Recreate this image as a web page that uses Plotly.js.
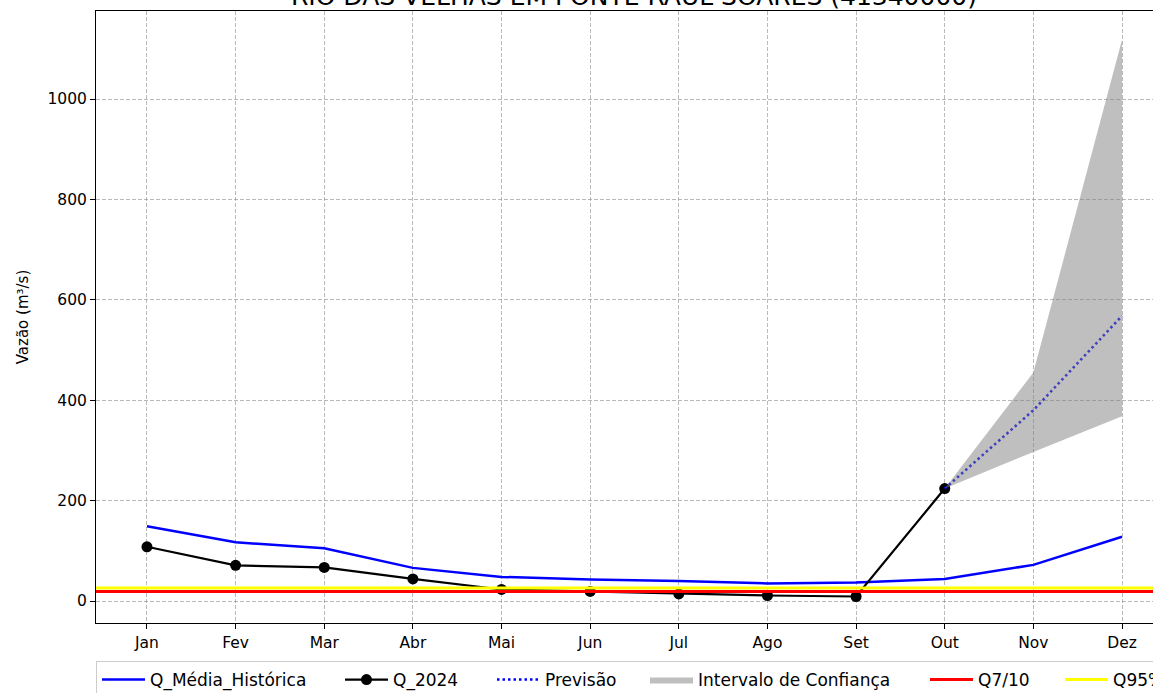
<!DOCTYPE html>
<html>
<head>
<meta charset="utf-8">
<script src="https://cdn.plot.ly/plotly-3.0.1.min.js"></script>
<style>
html,body{margin:0;padding:0;overflow:hidden;background:#fff;width:1153px;height:693px}
#chart{width:1400px;height:693px}
</style>
</head>
<body>
<div id="chart"></div>
<script>
// ---- data ----
const meses = ['Jan','Fev','Mar','Abr','Mai','Jun','Jul','Ago','Set','Out','Nov','Dez'];
const qMediaHistorica = [149, 117, 105, 66, 48, 43, 40, 35, 37, 44, 72, 128];
const meses2024 = ['Jan','Fev','Mar','Abr','Mai','Jun','Jul','Ago','Set','Out'];
const q2024 = [108, 71, 67, 44, 23, 19, 14, 11, 9, 224];
const mesesPrevisao = ['Out','Nov','Dez'];
const previsao = [224, 380, 568];
const icSuperior = [224, 455, 1118];
const icInferior = [224, 297, 368];
const q710 = 19;
const q95 = 26;
const titulo = 'RIO DAS VELHAS EM PONTE RAUL SOARES (41340000)';

const FONT = 'DejaVu Sans, sans-serif';

// polygon for the confidence band
const icX = mesesPrevisao.concat(mesesPrevisao.slice().reverse());
const icY = icSuperior.concat(icInferior.slice().reverse());

const traces = [
  {x: meses, y: qMediaHistorica, name: 'Q_Média_Histórica', mode: 'lines',
   line: {color: '#0000ff', width: 2.5}, legendwidth: 185},
  {x: meses2024, y: q2024, name: 'Q_2024', mode: 'lines+markers',
   line: {color: '#000000', width: 2.2}, marker: {color: '#000000', size: 11}, legendwidth: 94},
  {x: mesesPrevisao, y: previsao, name: 'Previsão', mode: 'lines',
   line: {color: '#0000ff', width: 2.6, dash: '2.5px,3px'}, legendwidth: 95},
  {x: icX, y: icY, name: 'Intervalo de Confiança', mode: 'lines', fill: 'toself',
   fillcolor: 'rgba(128,128,128,0.5)', line: {width: 0, color: 'rgba(128,128,128,0.5)'}, legendwidth: 222},
  {x: [0, 1], y: [q710, q710], name: 'Q7/10', mode: 'lines', xaxis: 'x2',
   line: {color: '#ff0000', width: 3}, legendwidth: 77},
  {x: [0, 1], y: [q95, q95], name: 'Q95%', mode: 'lines', xaxis: 'x2',
   line: {color: '#ffff00', width: 3}, legendwidth: 80}
];

const plotH = 693 - 11 - 70;
const layout = {
  width: 1400, height: 693,
  margin: {l: 96, r: 0, t: 11, b: 70, autoexpand: false},
  paper_bgcolor: '#ffffff', plot_bgcolor: '#ffffff',
  font: {family: FONT, color: '#000000', size: 15.5},
  showlegend: true,
  xaxis: {
    type: 'category', categoryorder: 'array', categoryarray: meses,
    range: [-0.575, -0.575 + 1304 / 88.64],
    showline: true, linecolor: '#000000', linewidth: 1, mirror: true,
    ticks: 'outside', ticklen: 5, tickcolor: '#000000', tickwidth: 1,
    showgrid: true, gridcolor: 'rgba(128,128,128,0.55)', griddash: '4px,2px', gridwidth: 1,
    zeroline: false, tickfont: {size: 15.5, family: FONT},
    title: {text: 'Mês', font: {size: 15.5, family: FONT}, standoff: 16}
  },
  xaxis2: {overlaying: 'x', range: [0, 1], visible: false, fixedrange: true},
  yaxis: {
    range: [-43.8, 1175.3],
    tickvals: [0, 200, 400, 600, 800, 1000],
    showline: true, linecolor: '#000000', linewidth: 1, mirror: true,
    ticks: 'outside', ticklen: 5, tickcolor: '#000000', tickwidth: 1,
    showgrid: true, gridcolor: 'rgba(128,128,128,0.55)', griddash: '4px,2px', gridwidth: 1,
    zeroline: false, tickfont: {size: 15.5, family: FONT},
    title: {text: 'Vazão (m³/s)', font: {size: 15, family: FONT}, standoff: 15}
  },
  legend: {
    orientation: 'h', x: 0, xanchor: 'left', y: -(661 - 623) / plotH, yanchor: 'top',
    bgcolor: '#ffffff', bordercolor: '#cccccc', borderwidth: 1,
    itemwidth: 43, font: {size: 17, family: FONT}
  },
  annotations: [{
    text: titulo, xref: 'x', yref: 'paper', x: 5.5, y: 1 + 15 / plotH,
    xanchor: 'center', yanchor: 'middle', showarrow: false,
    font: {size: 25, family: FONT, color: '#000000'}
  }]
};

Plotly.newPlot('chart', traces, layout, {displayModeBar: false, staticPlot: true}).then(function () {
  // as in the reference, the legend box sits on top of the x-axis title
  const info = document.querySelector('#chart .infolayer');
  const leg = info && info.querySelector('.legend');
  if (leg) info.appendChild(leg);
});
</script>
</body>
</html>
